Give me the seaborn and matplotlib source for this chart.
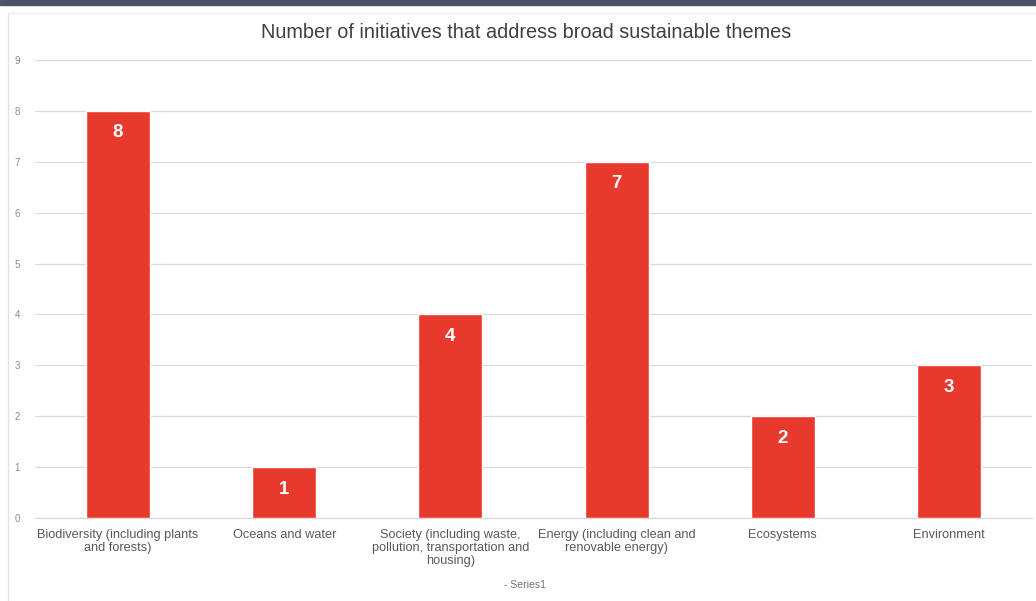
import matplotlib
matplotlib.use("Agg")
import matplotlib.pyplot as plt
import seaborn as sns
import pandas as pd

categories = [
    "Biodiversity (including plants\nand forests)",
    "Oceans and water",
    "Society (including waste,\npollution, transportation and\nhousing)",
    "Energy (including clean and\nrenovable energy)",
    "Ecosystems",
    "Environment",
]
values = [8, 1, 4, 7, 2, 3]
yticks = list(range(0, 10))
title = "Number of initiatives that address broad sustainable themes"
series_name = "Series1"

sns.set_theme(style="white")
plt.rcParams['font.family'] = ['Liberation Sans', 'DejaVu Sans']

df = pd.DataFrame({"cat": categories, "val": values})

fig = plt.figure(figsize=(10.36, 6.01), dpi=100)
ax = fig.add_axes([35/1036, 83/601, 997/1036, 458/601])

bar_color = "#E83A2C"
sns.barplot(data=df, x="cat", y="val", color=bar_color, width=0.385,
            saturation=1, ax=ax, zorder=3)

ax.set_ylim(0, 9)
ax.set_yticks(yticks)
ax.set_yticklabels([str(t) for t in yticks], color="#8a8a8a", fontsize=7)
ax.yaxis.grid(True, color="#d9d9d9", linewidth=0.9, zorder=0)
ax.set_axisbelow(True)
for s in ["top", "right", "left"]:
    ax.spines[s].set_visible(False)
ax.spines["bottom"].set_color("#d9d9d9")
ax.spines["bottom"].set_linewidth(0.9)
ax.tick_params(axis="y", length=0, pad=11)
ax.tick_params(axis="x", length=0, pad=8)
ax.set_xlabel("")
ax.set_ylabel("")
for lbl in ax.get_xticklabels():
    lbl.set_fontsize(9.2)
    lbl.set_color("#595959")
    lbl.set_linespacing(1.1)
    lbl.set_verticalalignment("top")

for container in ax.containers:
    ax.bar_label(container, labels=[str(v) for v in values], padding=-22,
                 color="white", fontsize=13.5, fontweight="bold")

# top dark band
fig.patches.append(plt.Rectangle((0, 1 - 5/601), 1, 5/601, transform=fig.transFigure,
                                 color="#4A5468", zorder=10))
# frame lines
fig.add_artist(plt.Line2D([8/1036, 8/1036], [0, 1 - 13/601], transform=fig.transFigure,
                          color="#e3e3e3", linewidth=1))
fig.add_artist(plt.Line2D([8/1036, 1], [1 - 13/601, 1 - 13/601], transform=fig.transFigure,
                          color="#ececec", linewidth=1))

fig.text(526/1036, 1 - 33/601, title, ha="center", va="center", fontsize=14.3,
         color="#404040")
fig.text(525/1036, 1 - 585/601, "- " + series_name, ha="center", va="center",
         fontsize=7.5, color="#707070")

fig.savefig("out.png", dpi=100)
